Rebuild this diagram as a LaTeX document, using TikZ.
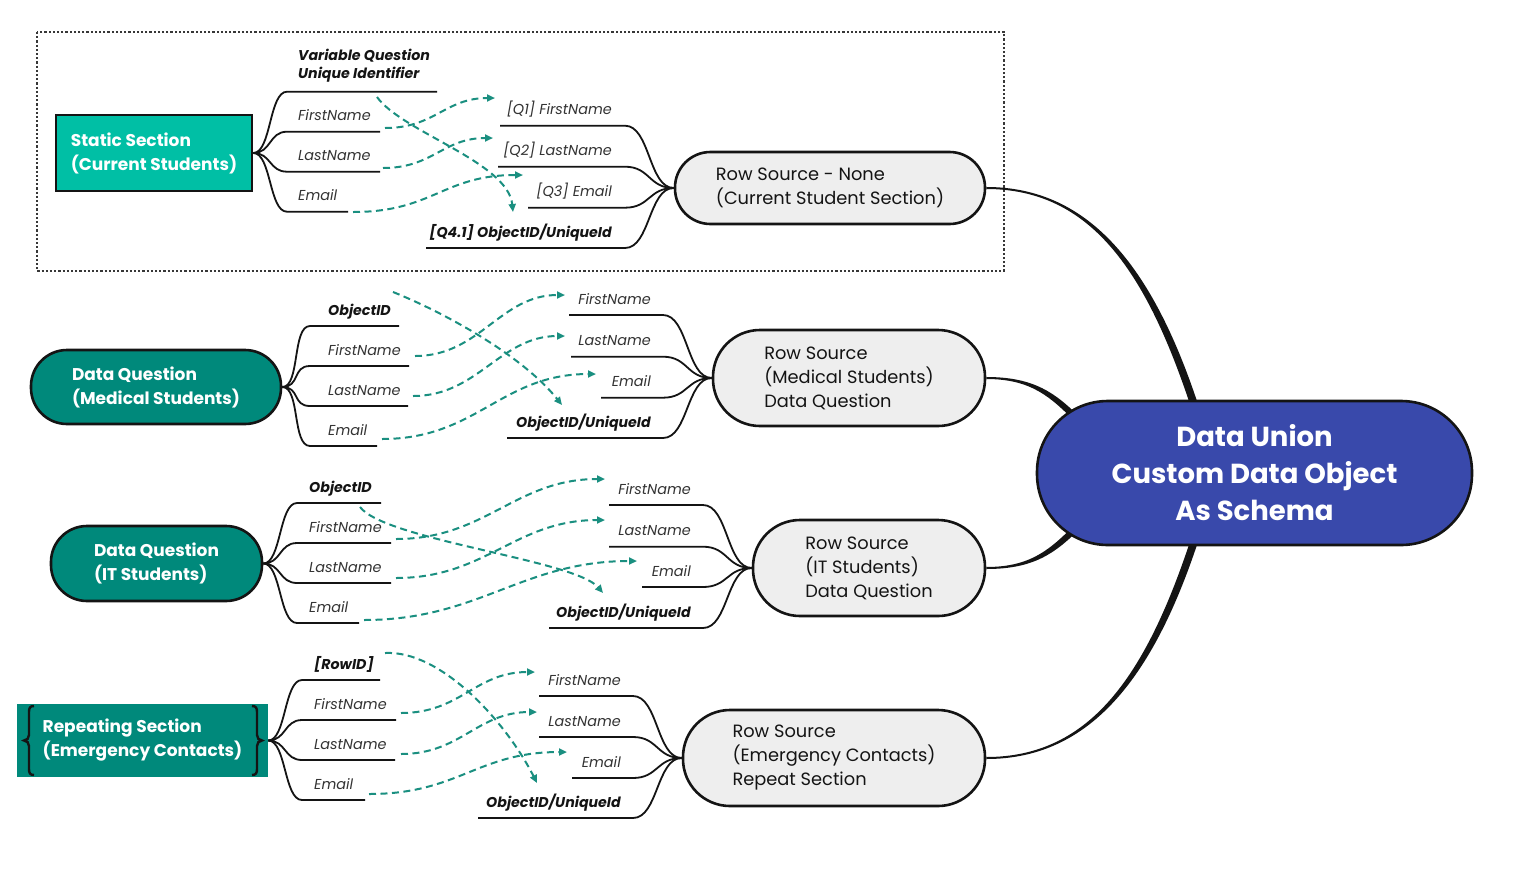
\documentclass[tikz,border=0pt]{standalone}
\usepackage{fontspec}
\setmainfont{Poppins}
\usetikzlibrary{arrows.meta,calc}
\definecolor{tealA}{HTML}{00BFA5}
\definecolor{tealB}{HTML}{00897B}
\definecolor{rsfill}{HTML}{EEEEEE}
\definecolor{unifill}{HTML}{3949AB}
\definecolor{dashc}{HTML}{1A8F80}
\definecolor{ink}{HTML}{141414}
\definecolor{labc}{HTML}{333333}
\newcommand\lbr[4]{\draw[br] (#1.east) .. controls +(18,0) and +(-18,0) .. (#2,#4) -- (#3,#4);}
\newcommand\rbr[4]{\draw[br] (#2,#4) -- (#3,#4) .. controls +(25,0) and +(-25,0) .. (#1.west);}
\begin{document}
\begin{tikzpicture}[x=1pt,y=-1pt,
  br/.style={draw=ink, line width=1.8pt},
  lab/.style={font=\fontsize{14.4}{16}\selectfont\itshape, inner sep=0pt, text=labc},
  blab/.style={font=\fontsize{14.2}{18}\selectfont\bfseries\itshape, inner sep=0pt, text=ink},
  dar/.style={draw=dashc, line width=2pt, dash pattern=on 7pt off 4.5pt, -{Triangle[length=8pt,width=7pt]}},
  rsn/.style={draw=ink, line width=2.6pt, fill=rsfill, text=ink, font=\fontsize{17.8}{24}\selectfont, align=left, rounded corners=#1},
  lnode/.style={text=white, font=\fontsize{17}{24}\selectfont\bfseries, align=left},
  conn/.style={fill=ink}
]
\useasboundingbox (0,0) rectangle (1518,879);
\fill[white] (0,0) rectangle (1518,879);

% dotted frame
\draw[draw=ink!85, line width=2.3pt, dash pattern=on 2.2pt off 2pt] (37,32) rectangle (1004,271);

% ---------- row source nodes
\node[rsn=35.5pt, minimum width=310pt, minimum height=72pt] (rs1) at (830,188) {Row Source - None\\(Current Student Section)};
\node[rsn=47pt, minimum width=272pt, minimum height=96pt] (rs2) at (849,378) {Row Source\\(Medical Students)\\Data Question};
\node[rsn=47pt, minimum width=232pt, minimum height=96pt] (rs3) at (869,568) {Row Source\\(IT Students)\\Data Question};
\node[rsn=47pt, minimum width=302pt, minimum height=96pt] (rs4) at (834,758) {Row Source\\(Emergency Contacts)\\Repeat Section};

% ---------- central node
\coordinate (unic) at (1254.5,473);
\fill[conn] ($(rs1.east)+(0,-1)$) .. controls +(105,0) and +(-46,-145) .. ($(unic)+(-53,-58)$) -- ($(unic)+(-61,-58)$) .. controls +(-46,-143) and +(105,0) .. ($(rs1.east)+(0,1)$) -- cycle;
\fill[conn] ($(rs2.east)+(0,-1)$) .. controls +(48,0) and +(-25,-25) .. ($(unic)+(-174,-55)$) -- ($(unic)+(-179,-51)$) .. controls +(-25,-25) and +(45,0) .. ($(rs2.east)+(0,1)$) -- cycle;
\fill[conn] ($(rs3.east)+(0,-1)$) .. controls +(45,0) and +(-25,25) .. ($(unic)+(-179,51)$) -- ($(unic)+(-174,55)$) .. controls +(-25,25) and +(48,0) .. ($(rs3.east)+(0,1)$) -- cycle;
\fill[conn] ($(rs4.east)+(0,1)$) .. controls +(105,0) and +(-46,145) .. ($(unic)+(-53,58)$) -- ($(unic)+(-61,58)$) .. controls +(-46,143) and +(105,0) .. ($(rs4.east)+(0,-1)$) -- cycle;
\node[draw=ink, line width=2.6pt, fill=unifill, rounded corners=71pt, minimum width=435pt, minimum height=144pt, text=white, font=\fontsize{27.5}{37}\selectfont\bfseries, align=center] (uni) at (unic) {Data Union\\Custom Data Object\\As Schema};

% ---------- source nodes
\node[lnode, draw=ink, line width=2.6pt, fill=tealA, minimum width=196pt, minimum height=76pt] (ss) at (154,153) {Static Section\\(Current Students)};
\node[lnode, draw=ink, line width=2.6pt, fill=tealB, rounded corners=36pt, minimum width=250pt, minimum height=74pt] (dqm) at (156,387) {Data Question\\(Medical Students)};
\node[lnode, draw=ink, line width=2.6pt, fill=tealB, rounded corners=36pt, minimum width=211pt, minimum height=75pt] (dqi) at (156.5,563.5) {Data Question\\(IT Students)};
\node[lnode, fill=tealB, minimum width=251pt, minimum height=73pt] (rep) at (142.5,740.5) {Repeating Section\\(Emergency Contacts)};
\draw[ink, line width=2.4pt] (34,706) .. controls (30,706) and (29,708) .. (29,712) -- (29,735) .. controls (29,738) and (27,740.5) .. (24,740.5) .. controls (27,740.5) and (29,743) .. (29,746) -- (29,769) .. controls (29,773) and (30,775) .. (34,775);
\draw[ink, line width=2.4pt] (252,706) .. controls (256,706) and (257,708) .. (257,712) -- (257,735) .. controls (257,738) and (259,740.5) .. (262,740.5) .. controls (259,740.5) and (257,743) .. (257,746) -- (257,769) .. controls (257,773) and (256,775) .. (252,775);

% ---------- static section leaves
\lbr{ss}{287}{437}{91.7}\lbr{ss}{287}{380}{131.7}\lbr{ss}{287}{380}{171.7}\lbr{ss}{287}{348}{211.7}
\node[blab, anchor=west, align=left] (vq) at (298,66) {Variable Question\\Unique Identifier};
\node[lab, anchor=base west] (s1fn) at (298,120.7) {FirstName};
\node[lab, anchor=base west] (s1ln) at (298,160.7) {LastName};
\node[lab, anchor=base west] (s1em) at (298,200.7) {Email};
\rbr{rs1}{500}{625}{125.7}\rbr{rs1}{498}{625}{166.7}\rbr{rs1}{528}{625}{207.7}\rbr{rs1}{426}{625}{248}
\node[lab, anchor=base east] (q1) at (612,114.7) {[Q1] FirstName};
\node[lab, anchor=base east] (q2) at (612,155.7) {[Q2] LastName};
\node[lab, anchor=base east] (q3) at (612,196.7) {[Q3] Email};
\node[blab, anchor=base east] (q4) at (612,237) {[Q4.1] ObjectID/UniqueId};

% ---------- medical leaves
\lbr{dqm}{310}{399}{326}\lbr{dqm}{310}{409}{366}\lbr{dqm}{310}{408}{406}\lbr{dqm}{310}{377}{446}
\node[blab, anchor=base west] (m1id) at (328,315) {ObjectID};
\node[lab, anchor=base west] (m1fn) at (328,355) {FirstName};
\node[lab, anchor=base west] (m1ln) at (328,395) {LastName};
\node[lab, anchor=base west] (m1em) at (328,435) {Email};
\rbr{rs2}{569}{663}{315}\rbr{rs2}{571}{663}{356.7}\rbr{rs2}{601}{663}{397.7}\rbr{rs2}{507}{663}{438}
\node[lab, anchor=base east] (m2fn) at (651,304) {FirstName};
\node[lab, anchor=base east] (m2ln) at (651,345.7) {LastName};
\node[lab, anchor=base east] (m2em) at (651,386.7) {Email};
\node[blab, anchor=base east] (m2id) at (651,427) {ObjectID/UniqueId};

% ---------- IT leaves
\lbr{dqi}{297}{381}{503}\lbr{dqi}{297}{391}{543}\lbr{dqi}{297}{391}{583}\lbr{dqi}{297}{359}{623}
\node[blab, anchor=base west] (i1id) at (309,492) {ObjectID};
\node[lab, anchor=base west] (i1fn) at (309,532) {FirstName};
\node[lab, anchor=base west] (i1ln) at (309,572) {LastName};
\node[lab, anchor=base west] (i1em) at (309,612) {Email};
\rbr{rs3}{609}{703}{505}\rbr{rs3}{609}{703}{546.7}\rbr{rs3}{642}{703}{587}\rbr{rs3}{549}{703}{628}
\node[lab, anchor=base east] (i2fn) at (691,494) {FirstName};
\node[lab, anchor=base east] (i2ln) at (691,535.7) {LastName};
\node[lab, anchor=base east] (i2em) at (691,576) {Email};
\node[blab, anchor=base east] (i2id) at (691,617) {ObjectID/UniqueId};

% ---------- repeating leaves
\lbr{rep}{302}{380}{680}\lbr{rep}{302}{396}{720}\lbr{rep}{302}{395}{760}\lbr{rep}{302}{365}{800}
\node[blab, anchor=base west] (r1id) at (314,669) {[RowID]};
\node[lab, anchor=base west] (r1fn) at (314,709) {FirstName};
\node[lab, anchor=base west] (r1ln) at (314,749) {LastName};
\node[lab, anchor=base west] (r1em) at (314,789) {Email};
\rbr{rs4}{539}{633}{696}\rbr{rs4}{539}{633}{737}\rbr{rs4}{572}{633}{778}\rbr{rs4}{478}{633}{818}
\node[lab, anchor=base east] (r2fn) at (621,685) {FirstName};
\node[lab, anchor=base east] (r2ln) at (621,726) {LastName};
\node[lab, anchor=base east] (r2em) at (621,767) {Email};
\node[blab, anchor=base east] (r2id) at (621,807) {ObjectID/UniqueId};

% ---------- dashed mapping arrows
\coordinate (a1) at (385,128); \coordinate (b1) at (495,98);
\coordinate (a2) at (383,168); \coordinate (b2) at (493,138);
\coordinate (a3) at (353,212); \coordinate (b3) at (523,175);
\coordinate (a4) at (377,97);  \coordinate (b4) at (513,212);
\draw[dar] (a1) .. controls +(50,0) and +(-50,0) .. (b1);
\draw[dar] (a2) .. controls +(50,0) and +(-50,0) .. (b2);
\draw[dar] (a3) .. controls +(80,0) and +(-80,0) .. (b3);
\draw[dar] (a4) .. controls +(25,35) and +(-5,-50) .. (b4);

\coordinate (a5) at (415,356); \coordinate (b5) at (565,295);
\coordinate (a6) at (413,396); \coordinate (b6) at (565,336);
\coordinate (a7) at (382,439); \coordinate (b7) at (596,374);
\coordinate (a8) at (393,292); \coordinate (b8) at (562,405);
\draw[dar] (a5) .. controls +(65,0) and +(-65,0) .. (b5);
\draw[dar] (a6) .. controls +(65,0) and +(-65,0) .. (b6);
\draw[dar] (a7) .. controls +(95,0) and +(-95,0) .. (b7);
\draw[dar] (a8) .. controls +(50,20) and +(-40,-50) .. (b8);

\coordinate (a9) at (396,539);  \coordinate (b9) at (605,479);
\coordinate (a10) at (396,578); \coordinate (b10) at (605,520);
\coordinate (a11) at (364,620); \coordinate (b11) at (637,561);
\coordinate (a12) at (360,507); \coordinate (b12) at (603,593);
\draw[dar] (a9) .. controls +(90,0) and +(-90,0) .. (b9);
\draw[dar] (a10) .. controls +(90,0) and +(-90,0) .. (b10);
\draw[dar] (a11) .. controls +(115,0) and +(-115,0) .. (b11);
\draw[dar] (a12) .. controls +(25,33) and +(-28,-33) .. (b12);

\coordinate (a13) at (401,713); \coordinate (b13) at (535,672);
\coordinate (a14) at (401,754); \coordinate (b14) at (537,712);
\coordinate (a15) at (369,794); \coordinate (b15) at (567,752);
\coordinate (a16) at (385,653); \coordinate (b16) at (537,783);
\draw[dar] (a13) .. controls +(60,0) and +(-60,0) .. (b13);
\draw[dar] (a14) .. controls +(60,0) and +(-60,0) .. (b14);
\draw[dar] (a15) .. controls +(90,0) and +(-90,0) .. (b15);
\draw[dar] (a16) .. controls +(55,-3) and +(-32,-63) .. (b16);
\end{tikzpicture}
\end{document}
